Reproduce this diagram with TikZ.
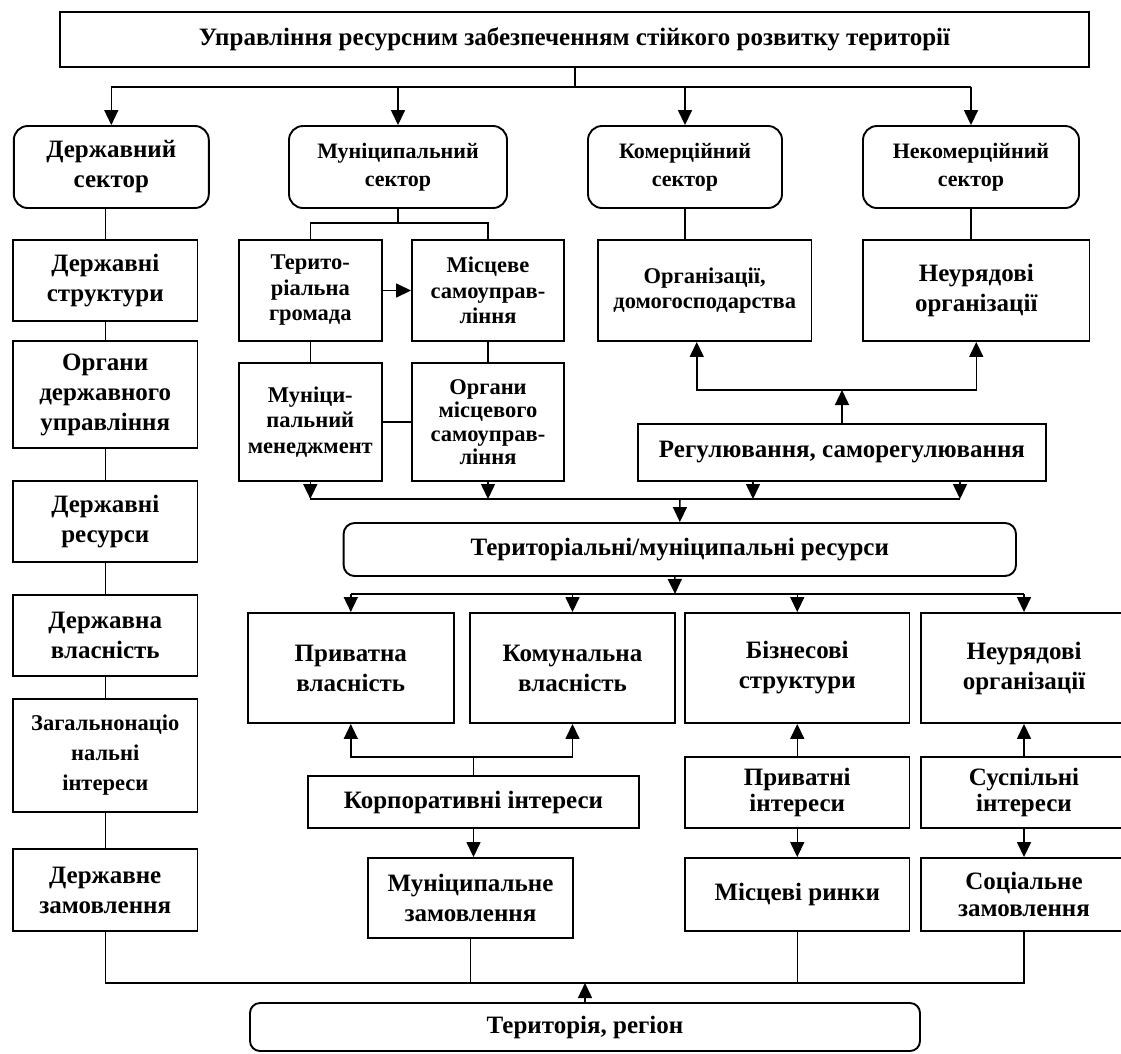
\documentclass[tikz,border=0pt]{standalone}
\usepackage{fontspec}
\setmainfont{Liberation Serif}
\usetikzlibrary{arrows.meta}

\begin{document}
\begin{tikzpicture}[x=1pt, y=-1pt, line width=1.5pt,
    box/.style={draw, rectangle, line width=1.9pt, align=center, inner sep=0pt, font=\bfseries\fontsize{25}{30}\selectfont},
    rbox/.style={box, rounded corners=14pt},
    small/.style={font=\bfseries\fontsize{22}{28}\selectfont},
    tight/.style={font=\bfseries\fontsize{22.5}{25.5}\selectfont},
    arr/.style={-{Triangle[length=15pt, width=14pt]}}]
    \clip (0,0) rectangle (1121,1053);

    \node[box, minimum width=1029pt, minimum height=55pt] (top) at (574.5,39.5) {Управління ресурсним забезпеченням стійкого розвитку території};

    \node[rbox, minimum width=195pt, minimum height=82pt] (s1) at (111.3,167) {Державний\\сектор};
    \node[rbox, small, minimum width=218pt, minimum height=82pt] (s2) at (398,167) {Муніципальний\\сектор};
    \node[rbox, small, minimum width=194pt, minimum height=82pt] (s3) at (685,167) {Комерційний\\сектор};
    \node[rbox, small, minimum width=216pt, minimum height=82pt] (s4) at (971,167) {Некомерційний\\сектор};

    \node[box, minimum width=184.5pt, minimum height=81pt] (g1) at (105.25,280.5) {Державні\\структури};
    \node[box, minimum width=184.5pt, minimum height=107pt] (g2) at (105.25,394.5) {Органи\\державного\\управління};
    \node[box, minimum width=184.5pt, minimum height=81pt] (g3) at (105.25,521.5) {Державні\\ресурси};
    \node[box, minimum width=184.5pt, minimum height=81pt] (g4) at (105.25,635.5) {Державна\\власність};
    \node[box, font=\bfseries\fontsize{22.5}{30}\selectfont, minimum width=184.5pt, minimum height=113pt] (g5) at (105.25,755.5) {Загальнонаціо\\нальні\\інтереси};
    \node[box, minimum width=184.5pt, minimum height=82pt] (g6) at (105.25,890) {Державне\\замовлення};

    \node[box, tight, minimum width=143.4pt, minimum height=101pt] (m1) at (310.3,290.5) {Терито-\\ріальна\\громада};
    \node[box, tight, minimum width=152pt, minimum height=101pt] (m2) at (488,290.5) {Місцеве\\самоуправ-\\ління};
    \node[box, tight, minimum width=143.4pt, minimum height=118pt] (m3) at (310.3,422) {Муніци-\\пальний\\менеджмент};
    \node[box, font=\bfseries\fontsize{22.5}{23.5}\selectfont, minimum width=152pt, minimum height=118pt] (m4) at (488,422) {Органи\\місцевого\\самоуправ-\\ління};

    \node[box, tight, minimum width=213.5pt, minimum height=101pt] (c1) at (704.75,290.5) {Організації,\\домогосподарства};
    \node[box, minimum width=226.5pt, minimum height=101pt] (n1) at (976.25,290.5) {Неурядові\\організації};
    \node[box, minimum width=408pt, minimum height=57pt] (reg) at (842,452.5) {Регулювання, саморегулювання};

    \node[rbox, rounded corners=11pt, minimum width=672.4pt, minimum height=53pt] (res) at (679.8,549.5) {Територіальні/муніципальні ресурси};

    \node[box, minimum width=205.6pt, minimum height=110pt] (r1) at (350.8,668) {Приватна\\власність};
    \node[box, minimum width=205pt, minimum height=110pt] (r2) at (572.5,668) {Комунальна\\власність};
    \node[box, minimum width=224.5pt, minimum height=110pt] (r3) at (797.25,668) {Бізнесові\\структури};
    \node[box, minimum width=206pt, minimum height=110pt] (r4) at (1024,668) {Неурядові\\організації};

    \node[box, minimum width=331pt, minimum height=52pt] (corp) at (473.5,802) {Корпоративні інтереси};
    \node[box, minimum width=205pt, minimum height=80pt] (mz) at (470.5,898) {Муніципальне\\замовлення};
    \node[box, font=\bfseries\fontsize{25}{26}\selectfont, minimum width=224.5pt, minimum height=71pt] (pi) at (797.25,792.5) {Приватні\\інтереси};
    \node[box, font=\bfseries\fontsize{25}{26}\selectfont, minimum width=206pt, minimum height=71pt] (si) at (1024,792.5) {Суспільні\\інтереси};
    \node[box, minimum width=224.5pt, minimum height=73pt] (lm) at (797.25,894.5) {Місцеві ринки};
    \node[box, font=\bfseries\fontsize{25}{27}\selectfont, minimum width=206pt, minimum height=73pt] (sz) at (1024,894.5) {Соціальне\\замовлення};

    \node[rbox, rounded corners=10pt, minimum width=670pt, minimum height=48pt] (ter) at (585,1027) {Територія, регіон};

    \coordinate (tj) at (575,87);
    \coordinate (mj) at (398,223);
    \coordinate (rj) at (842,390);
    \coordinate (bj) at (680,499);
    \coordinate (rsj) at (675,594);
    \coordinate (cj) at (473.5,757);
    \coordinate (bot) at (585,983);

    \draw (top.south -| tj) -- (tj);
    \draw (s1.north |- tj) -- (s4.north |- tj);
    \foreach \s in {s1,s2,s3,s4}
        \draw[arr] (\s.north |- tj) -- (\s.north);

    \draw (g1.north) -- (g1.north |- s1.south);
    \foreach \a/\b in {g1/g2,g2/g3,g3/g4,g4/g5,g5/g6}
        \draw (\a) -- (\b);

    \draw (s2.south) -- (mj);
    \draw (m1.north) |- (mj) -| (m2.north);
    \draw[arr] (m1) -- (m2);
    \draw (m1) -- (m3);
    \draw (m2) -- (m4);
    \draw (m3) -- (m4);

    \draw (s3.south) -- (s3.south |- c1.north);
    \draw (s4.south) -- (s4.south |- n1.north);
    \draw[arr] (reg.north) -- (rj);
    \draw[arr] (rj) -| ([xshift=-8pt]c1.south);
    \draw[arr] (rj) -| (n1.south);

    \draw (m3.south |- bj) -- ([xshift=118pt]reg.south |- bj);
    \draw[arr] (m3.south) -- (m3.south |- bj);
    \draw[arr] (m4.south) -- (m4.south |- bj);
    \draw[arr] ([xshift=-89pt]reg.south) -- ([xshift=-89pt]reg.south |- bj);
    \draw[arr] ([xshift=118pt]reg.south) -- ([xshift=118pt]reg.south |- bj);
    \draw[arr] (bj) -- (res.north);

    \draw[arr] ([xshift=-5pt]res.south) -- (rsj);
    \draw (r1.north |- rsj) -- (r4.north |- rsj);
    \foreach \r in {r1,r2,r3,r4}
        \draw[arr] (\r.north |- rsj) -- (\r.north);

    \draw (corp.north) -- (cj);
    \draw[arr] (cj) -| (r1.south);
    \draw[arr] (cj) -| (r2.south);
    \draw[arr] (corp.south) -- (corp.south |- mz.north);
    \draw[arr] (pi) -- (r3);
    \draw[arr] (pi) -- (lm);
    \draw[arr] (si) -- (r4);
    \draw[arr] (si) -- (sz);

    \draw (g6.south) |- (sz.south |- bot) -- (sz.south);
    \draw (mz.south) -- (mz.south |- bot);
    \draw (lm.south) -- (lm.south |- bot);
    \draw[arr] (ter) -- (bot);
\end{tikzpicture}
\end{document}
